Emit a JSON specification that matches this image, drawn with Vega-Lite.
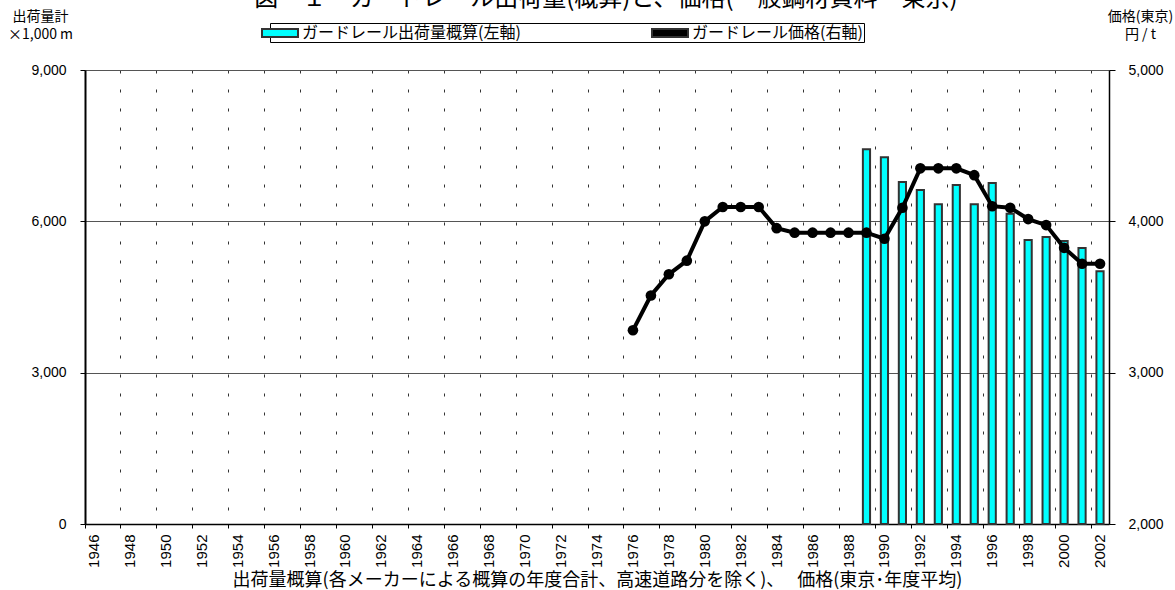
{
  "$schema": "https://vega.github.io/schema/vega-lite/v6.json",
  "width": 1024,
  "height": 454,
  "autosize": {"type": "none"},
  "padding": {"left": 85, "top": 70, "right": 66, "bottom": 66},
  "background": "white",
  "title": {
    "text": "図－１　ガードレール出荷量(概算)と、価格(一般鋼材資料・東京)",
    "font": "Noto Sans CJK JP",
    "fontSize": 24,
    "fontWeight": "normal",
    "color": "#000000",
    "anchor": "middle",
    "offset": 0,
    "dx": 9,
    "dy": 2
  },
  "config": {
    "view": {"stroke": null},
    "axis": {"labelColor": "#000000", "titleColor": "#000000"}
  },
  "datasets": {
    "ship": [
      {"year": 1989, "shipment": 7430},
      {"year": 1990, "shipment": 7270},
      {"year": 1991, "shipment": 6780},
      {"year": 1992, "shipment": 6620},
      {"year": 1993, "shipment": 6340},
      {"year": 1994, "shipment": 6720},
      {"year": 1995, "shipment": 6340},
      {"year": 1996, "shipment": 6760},
      {"year": 1997, "shipment": 6150},
      {"year": 1998, "shipment": 5630},
      {"year": 1999, "shipment": 5690},
      {"year": 2000, "shipment": 5610},
      {"year": 2001, "shipment": 5470},
      {"year": 2002, "shipment": 5010}
    ],
    "price": [
      {"year": 1976, "price": 3280},
      {"year": 1977, "price": 3510},
      {"year": 1978, "price": 3650},
      {"year": 1979, "price": 3740},
      {"year": 1980, "price": 4000},
      {"year": 1981, "price": 4095},
      {"year": 1982, "price": 4095},
      {"year": 1983, "price": 4095},
      {"year": 1984, "price": 3955},
      {"year": 1985, "price": 3925},
      {"year": 1986, "price": 3925},
      {"year": 1987, "price": 3925},
      {"year": 1988, "price": 3925},
      {"year": 1989, "price": 3925},
      {"year": 1990, "price": 3885},
      {"year": 1991, "price": 4090},
      {"year": 1992, "price": 4350},
      {"year": 1993, "price": 4350},
      {"year": 1994, "price": 4350},
      {"year": 1995, "price": 4305},
      {"year": 1996, "price": 4100},
      {"year": 1997, "price": 4090},
      {"year": 1998, "price": 4015},
      {"year": 1999, "price": 3975},
      {"year": 2000, "price": 3825},
      {"year": 2001, "price": 3720},
      {"year": 2002, "price": 3720}
    ]
  },
  "layer": [
    {
      "data": {"name": "ship"},
      "mark": {"type": "bar", "width": {"band": 0.4}, "stroke": "#333333", "strokeWidth": 2},
      "encoding": {
        "x": {
          "field": "year",
          "type": "ordinal",
          "scale": {
            "domain": [1946,1947,1948,1949,1950,1951,1952,1953,1954,1955,1956,1957,1958,1959,1960,1961,1962,1963,1964,1965,1966,1967,1968,1969,1970,1971,1972,1973,1974,1975,1976,1977,1978,1979,1980,1981,1982,1983,1984,1985,1986,1987,1988,1989,1990,1991,1992,1993,1994,1995,1996,1997,1998,1999,2000,2001,2002],
            "paddingInner": 0,
            "paddingOuter": 0
          },
          "axis": {
            "values": [1946,1948,1950,1952,1954,1956,1958,1960,1962,1964,1966,1968,1970,1972,1974,1976,1978,1980,1982,1984,1986,1988,1990,1992,1994,1996,1998,2000,2002],
            "bandPosition": 0,
            "labelAngle": -90,
            "labelAlign": "right",
            "labelBaseline": "middle",
            "labelFont": "Liberation Sans",
            "labelFontSize": 15,
            "labelPadding": 6,
            "grid": true,
            "gridDash": [3, 16],
            "gridColor": "#333333",
            "gridWidth": 1,
            "domainColor": "#000000",
            "domainWidth": 1.5,
            "tickColor": "#000000",
            "tickSize": 4,
            "title": "出荷量概算(各メーカーによる概算の年度合計、高速道路分を除く)、　 価格(東京･年度平均)",
            "titleFont": "Noto Sans CJK JP",
            "titleFontSize": 18,
            "titleFontWeight": "normal",
            "titleY": 56,
            "titleBaseline": "middle"
          }
        },
        "y": {
          "field": "shipment",
          "type": "quantitative",
          "scale": {"domain": [0, 9000], "nice": false},
          "axis": {
            "values": [0, 3000, 6000, 9000],
            "format": ",d",
            "grid": true,
            "gridColor": "#555555",
            "gridWidth": 1,
            "domainColor": "#000000",
            "domainWidth": 2,
            "tickColor": "#000000",
            "tickSize": 5,
            "labelPadding": 14,
            "labelFont": "Liberation Sans",
            "labelFontSize": 14,
            "title": ["出荷量計", "×1,000 m"],
            "titleAngle": 0,
            "titleX": -45,
            "titleY": -61,
            "titleAlign": "center",
            "titleBaseline": "top",
            "titleFont": "Noto Sans CJK JP",
            "titleFontSize": 14,
            "titleFontWeight": "normal",
            "titleLineHeight": 18
          }
        },
        "color": {
          "datum": "ガードレール出荷量概算(左軸)",
          "scale": {
            "domain": ["ガードレール出荷量概算(左軸)", "ガードレール価格(右軸)"],
            "range": ["#00ffff", "#000000"]
          },
          "legend": {
            "orient": "none",
            "legendX": 185,
            "legendY": -47,
            "direction": "horizontal",
            "title": null,
            "strokeColor": "#000000",
            "padding": 1,
            "labelFont": "Noto Sans CJK JP",
            "labelFontSize": 16,
            "labelColor": "#000000",
            "labelLimit": 600,
            "labelExpr": "datum.label === 'ガードレール価格(右軸)' ? datum.label + '　　　　　' : datum.label",
            "symbolType": "M-6.5,0M-2.25,-0.5H2.25V0.5H-2.25Z",
            "symbolSize": 256,
            "symbolStrokeColor": "#333333",
            "symbolStrokeWidth": 2,
            "columnPadding": 93,
            "labelOffset": 13
          }
        }
      }
    },
    {
      "data": {"name": "price"},
      "mark": {"type": "line", "color": "#000000", "strokeWidth": 4, "point": {"filled": true, "size": 113, "color": "#000000"}},
      "encoding": {
        "x": {"field": "year", "type": "ordinal"},
        "y": {
          "field": "price",
          "type": "quantitative",
          "scale": {"domain": [2000, 5000], "nice": false},
          "axis": {
            "orient": "right",
            "values": [2000, 3000, 4000, 5000],
            "format": ",d",
            "grid": false,
            "domainColor": "#000000",
            "domainWidth": 1.5,
            "tickColor": "#000000",
            "tickSize": 6,
            "labelPadding": 13,
            "labelFont": "Liberation Sans",
            "labelFontSize": 14,
            "title": ["価格(東京)", "円 / t"],
            "titleAngle": 0,
            "titleX": 31,
            "titleY": -61,
            "titleAlign": "center",
            "titleBaseline": "top",
            "titleFont": "Noto Sans CJK JP",
            "titleFontSize": 14,
            "titleFontWeight": "normal",
            "titleLineHeight": 18
          }
        }
      }
    }
  ],
  "resolve": {"scale": {"y": "independent"}}
}
